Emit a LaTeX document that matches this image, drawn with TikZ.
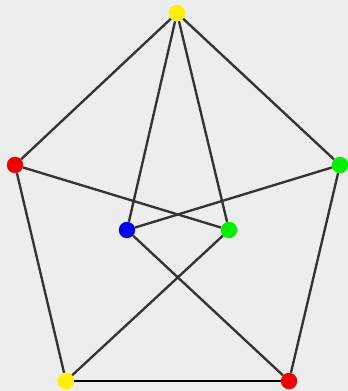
\documentclass[tikz,border=0pt]{standalone}
\usepackage{xcolor}
\usepackage{tikz}
\definecolor{paper}{HTML}{EDEDED}
\definecolor{vyellow}{HTML}{FFF200}
\definecolor{vred}{HTML}{F00000}
\definecolor{vgreen}{HTML}{00F000}
\definecolor{vblue}{HTML}{0000F0}
\definecolor{edgegray}{HTML}{333333}
\tikzset{
  vertex/.style={circle, inner sep=0pt, minimum size=14pt},
  edge/.style={edgegray, line width=2pt}
}

\begin{document}
\begin{tikzpicture}[x=0.03cm, y=-0.03cm]
  % Background
  \fill[paper] (0,0) rectangle (348,391);
  \useasboundingbox (0,0) rectangle (348,391);

  % Nodes
  \node[vertex, fill=vyellow] (T) at (177,13) {};
  \node[vertex, fill=vred] (L) at (15,165) {};
  \node[vertex, fill=vgreen] (R) at (340,165) {};
  \node[vertex, fill=vblue] (B) at (127,230) {};
  \node[vertex, fill=vgreen] (G) at (229,230) {};
  \node[vertex, fill=vyellow] (BL) at (66,381) {};
  \node[vertex, fill=vred] (BR) at (289,381) {};

  % Edges
  \draw[edge] (T) -- (L);
  \draw[edge] (T) -- (R);
  \draw[edge] (T) -- (B);
  \draw[edge] (T) -- (G);
  \draw[edge] (L) -- (G);
  \draw[edge] (R) -- (B);
  \draw[edge] (B) -- (BR);
  \draw[edge] (G) -- (BL);
  \draw[edge] (L) -- (BL);
  \draw[edge] (R) -- (BR);
  \draw[edge, line width=1.4pt, black] (BL) -- (BR);
\end{tikzpicture}
\end{document}
